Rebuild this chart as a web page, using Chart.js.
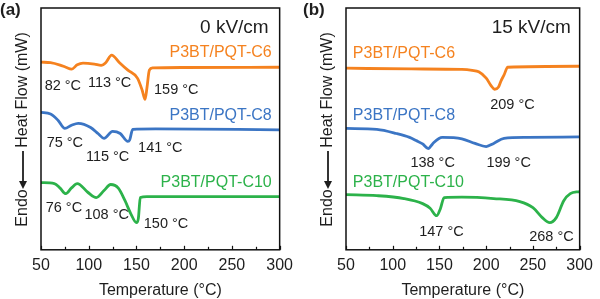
<!DOCTYPE html>
<html>
<head>
<meta charset="utf-8">
<script src="https://cdn.jsdelivr.net/npm/chart.js@4.4.0/dist/chart.umd.min.js"></script>
<style>
  html, body { margin: 0; padding: 0; background: #fff; }
  .wrap { display: flex; width: 600px; height: 299px; }
  .panel { width: 300px; height: 299px; }
</style>
</head>
<body>
<div class="wrap">
  <div class="panel"><canvas id="chartA" width="300" height="299"></canvas></div>
  <div class="panel"><canvas id="chartB" width="300" height="299"></canvas></div>
</div>
<script>
// DSC curves, heat flow in arbitrary units (curves offset for clarity)
// panel (a): 0 kV/cm
const c6TempA  = [50, 60, 70, 76, 82, 88, 94, 106, 113, 118, 124, 132, 141, 151, 156, 159, 161, 163.5, 167, 200, 300];
const c6FlowA  = [77.6, 77.4, 76.4, 75.5, 74.7, 76.5, 77.2, 76.8, 76.3, 77.5, 80.5, 77.5, 74.3, 71.0, 66.0, 62.2, 67.0, 74.3, 75.2, 75.4, 75.5];
const c8TempA  = [50, 60, 68, 75, 82, 89, 102, 110, 116, 125, 133, 141, 143, 146, 170, 300];
const c8FlowA  = [56.8, 56.2, 53.5, 50.2, 51.5, 52.3, 50.6, 48.0, 46.1, 49.0, 48.1, 44.8, 45.5, 49.8, 50.0, 49.6];
const c10TempA = [50, 64, 70, 76, 82, 88, 99, 108, 116, 123, 131, 138, 144, 150, 152, 154, 161, 300];
const c10FlowA = [27.8, 27.4, 25.5, 23.2, 25.6, 27.4, 23.8, 21.6, 24.5, 27.0, 25.5, 20.3, 15.0, 11.2, 13.0, 21.6, 22.0, 22.0];

// panel (b): 15 kV/cm
const c6TempB  = [50, 120, 174, 185, 192, 200, 205, 209, 213, 216, 219, 223, 300];
const c6FlowB  = [75.1, 74.8, 74.6, 74.2, 73.6, 71.0, 68.0, 66.4, 67.2, 70.0, 72.2, 75.5, 75.9];
const c8TempB  = [50, 83, 104, 118, 125, 132, 138, 141, 144, 153, 174, 188, 200, 208, 219, 244, 300];
const c8FlowB  = [50.2, 49.8, 48.1, 46.5, 45.2, 43.8, 41.9, 43.0, 44.4, 46.5, 45.9, 44.0, 42.7, 44.0, 46.1, 46.5, 46.7];
const c10TempB = [50, 83, 112, 132, 140, 147, 151, 155, 174, 208, 236, 250, 260, 268, 275, 283, 290, 300];
const c10FlowB = [22.8, 22.4, 21.2, 19.1, 17.2, 14.1, 17.0, 21.6, 21.8, 21.2, 19.9, 17.4, 13.3, 11.2, 13.3, 20.3, 23.2, 24.1];

const seriesNames = ["P3BT/PQT-C6", "P3BT/PQT-C8", "P3BT/PQT-C10"];
const seriesColors = ["#f5821f", "#3b75c4", "#2cb24a"];
const xTicks = [50, 100, 150, 200, 250, 300];

// peak labels: [text, temperature, heat flow]
const notesA = [
  ["82 °C", 72.9, 67.6], ["113 °C", 121.9, 68.9], ["159 °C", 191.7, 66.0],
  ["75 °C", 75, 44.0], ["115 °C", 119.8, 38.2], ["141 °C", 175, 42.3],
  ["76 °C", 74, 17.4], ["108 °C", 118.8, 14.5], ["150 °C", 181, 10.8]
];
const notesB = [
  ["209 °C", 228.1, 59.8],
  ["138 °C", 142.7, 36.1], ["199 °C", 224, 36.1],
  ["147 °C", 152.1, 7.5], ["268 °C", 269.8, 5.4]
];
const seriesLabelsA = [[291.7, 81.7, "right"], [291.7, 55.6, "right"], [291.7, 27.8, "right"]];
const seriesLabelsB = [[57.3, 81.3, "left"], [57.3, 55.6, "left"], [57.3, 27.8, "left"]];

const FONT = "'Liberation Sans', Arial, Helvetica, sans-serif";
const INK = "#1e1e1e";

function pts(temps, flows) {
  return temps.map((t, i) => ({ x: t, y: flows[i] }));
}

// frame, inward ticks, axis title, labels
const decorPlugin = {
  id: "decor",
  afterDraw(chart, args, opts) {
    const ctx = chart.ctx;
    const area = chart.chartArea;
    const xs = chart.scales.x, ys = chart.scales.y;
    ctx.save();

    // box
    ctx.strokeStyle = "#111";
    ctx.lineWidth = 1.5;
    ctx.strokeRect(area.left, area.top, area.right - area.left, area.bottom - area.top);

    // inward ticks
    ctx.lineWidth = 1.2;
    for (let t = 50; t <= 300; t += 25) {
      const px = Math.round(xs.getPixelForValue(t)) + 0.5;
      const len = t % 50 === 0 ? 4 : 3;
      ctx.beginPath();
      ctx.moveTo(px, area.bottom);
      ctx.lineTo(px, area.bottom - len);
      ctx.stroke();
    }

    // y title with arrow
    const cx = area.left - 18;
    ctx.fillStyle = INK;
    ctx.textBaseline = "middle";
    ctx.font = "16px " + FONT;
    ctx.save();
    ctx.translate(cx, 0);
    ctx.rotate(-Math.PI / 2);
    ctx.textAlign = "center";
    ctx.fillText("Heat Flow (mW)", -90, 0);
    ctx.fillText("Endo", -208, 0);
    ctx.strokeStyle = INK;
    ctx.lineWidth = 1.8;
    ctx.beginPath();
    ctx.moveTo(-151, 0);
    ctx.lineTo(-184, 0);
    ctx.stroke();
    ctx.beginPath();
    ctx.moveTo(-189, 0);
    ctx.lineTo(-181, -4);
    ctx.lineTo(-181, 4);
    ctx.closePath();
    ctx.fill();
    ctx.restore();

    // panel letter
    ctx.font = "bold 17px " + FONT;
    ctx.textAlign = "left";
    ctx.fillText(opts.letter, opts.letterX, 10);

    // field strength
    ctx.font = "19px " + FONT;
    ctx.textAlign = "right";
    ctx.fillText(opts.field, xs.getPixelForValue(opts.fieldPos[0]), ys.getPixelForValue(opts.fieldPos[1]));

    // series names
    ctx.font = "16px " + FONT;
    opts.seriesLabels.forEach((s, i) => {
      ctx.fillStyle = seriesColors[i];
      ctx.textAlign = s[2];
      ctx.fillText(seriesNames[i], xs.getPixelForValue(s[0]), ys.getPixelForValue(s[1]));
    });

    // peak temperatures
    ctx.fillStyle = INK;
    ctx.font = "14.5px " + FONT;
    ctx.textAlign = "center";
    opts.notes.forEach(n => {
      ctx.fillText(n[0], xs.getPixelForValue(n[1]), ys.getPixelForValue(n[2]));
    });
    ctx.restore();
  }
};

function makeChart(id, temps, flows, extra, padL, padR) {
  const datasets = temps.map((t, i) => ({
    label: seriesNames[i],
    data: pts(t, flows[i]),
    borderColor: seriesColors[i],
    borderWidth: 2.8,
    pointRadius: 0,
    fill: false,
    cubicInterpolationMode: "monotone"
  }));
  return new Chart(document.getElementById(id), {
    type: "line",
    data: { datasets: datasets },
    plugins: [decorPlugin],
    options: {
      responsive: false,
      animation: false,
      layout: { padding: { left: padL, right: padR, top: 8, bottom: 0 } },
      plugins: {
        legend: { display: false },
        tooltip: { enabled: false },
        decor: extra
      },
      scales: {
        x: {
          type: "linear",
          min: 50,
          max: 300,
          afterBuildTicks: axis => { axis.ticks = xTicks.map(v => ({ value: v })); },
          grid: { display: false, drawTicks: false },
          border: { display: false },
          ticks: { padding: 7, color: INK, font: { family: FONT, size: 16, lineHeight: 1.1 } },
          title: {
            display: true,
            text: "Temperature (°C)",
            color: INK,
            font: { family: FONT, size: 16, lineHeight: 1.1 },
            padding: { top: 0, bottom: 0 }
          }
        },
        y: { display: false, min: 0, max: 100 }
      }
    }
  });
}

makeChart("chartA",
  [c6TempA, c8TempA, c10TempA],
  [c6FlowA, c8FlowA, c10FlowA],
  { letter: "(a)", letterX: 0, field: "0 kV/cm", fieldPos: [288.5, 91.7], seriesLabels: seriesLabelsA, notes: notesA },
  41, 19);

makeChart("chartB",
  [c6TempB, c8TempB, c10TempB],
  [c6FlowB, c8FlowB, c10FlowB],
  { letter: "(b)", letterX: 3, field: "15 kV/cm", fieldPos: [290.6, 91.7], seriesLabels: seriesLabelsB, notes: notesB },
  46, 14);
</script>
</body>
</html>
